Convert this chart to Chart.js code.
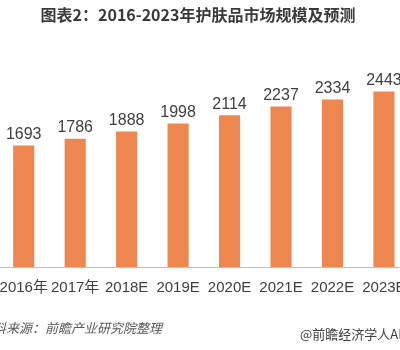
<!DOCTYPE html>
<html>
<head>
<meta charset="utf-8">
<script src="https://cdn.jsdelivr.net/npm/chart.js@4"></script>
<style>
  html, body { margin: 0; padding: 0; background: #fff; overflow: hidden; }
  #wrap { position: absolute; left: -12px; top: 0; width: 429px; height: 350px; }
</style>
</head>
<body>
<div id="wrap"><canvas id="skinCare" width="429" height="350"></canvas></div>
<script>
const categories = ['2016年', '2017年', '2018E', '2019E', '2020E', '2021E', '2022E', '2023E'];
const marketSize = [1693, 1786, 1888, 1998, 2114, 2237, 2334, 2443];
const yRange = [0, 3000];

const titleText = '图表2：2016-2023年护肤品市场规模及预测';
const sourceText = '资料来源：前瞻产业研究院整理';
const creditText = '@前瞻经济学人APP';

const colors = {
  bar: '#ee8650',
  text: '#404040',
  axis: '#bfbfbf',
  source: '#595959',
};

const latin = '"Liberation Sans", Arial, "Noto Sans CJK SC", sans-serif';
const cjk = '"Noto Sans CJK SC", "Liberation Sans", sans-serif';

// value labels, title and footer drawn on the canvas
const decorations = {
  id: 'decorations',
  afterDatasetsDraw(chart) {
    const ctx = chart.ctx;
    const meta = chart.getDatasetMeta(0);
    ctx.save();
    ctx.fillStyle = colors.text;
    ctx.font = '16px ' + latin;
    ctx.textAlign = 'center';
    ctx.textBaseline = 'bottom';
    meta.data.forEach((bar, i) => {
      ctx.fillText(String(marketSize[i]), bar.x, bar.y - 3);
    });

    ctx.font = 'bold 16px ' + cjk;
    ctx.textBaseline = 'middle';
    ctx.fillStyle = '#3a3a3a';
    ctx.fillText(titleText, 210, 15);

    ctx.textAlign = 'left';
    ctx.font = 'italic 13px ' + cjk;
    ctx.fillStyle = colors.source;
    ctx.fillText(sourceText, -8, 328);

    ctx.font = '13px ' + cjk;
    ctx.fillStyle = colors.text;
    ctx.fillText(creditText, 312, 334);
    ctx.restore();
  },
};

new Chart(document.getElementById('skinCare'), {
  type: 'bar',
  data: {
    labels: categories,
    datasets: [
      {
        data: marketSize,
        backgroundColor: colors.bar,
        barPercentage: 0.41,
        categoryPercentage: 1,
      },
    ],
  },
  options: {
    responsive: false,
    animation: false,
    devicePixelRatio: 1,
    layout: { padding: { top: 51.6, left: 0, right: 0, bottom: 0 } },
    plugins: {
      legend: { display: false },
      tooltip: { enabled: false },
    },
    scales: {
      x: {
        offset: true,
        grid: { display: false, drawTicks: false },
        border: { display: true, color: colors.axis, width: 1 },
        ticks: {
          color: colors.text,
          padding: 12,
          maxRotation: 0,
          autoSkip: false,
          font: { size: 15, family: latin },
        },
        afterFit(scale) {
          scale.height = 83;
        },
      },
      y: {
        display: false,
        min: yRange[0],
        max: yRange[1],
      },
    },
  },
  plugins: [decorations],
});
</script>
</body>
</html>
